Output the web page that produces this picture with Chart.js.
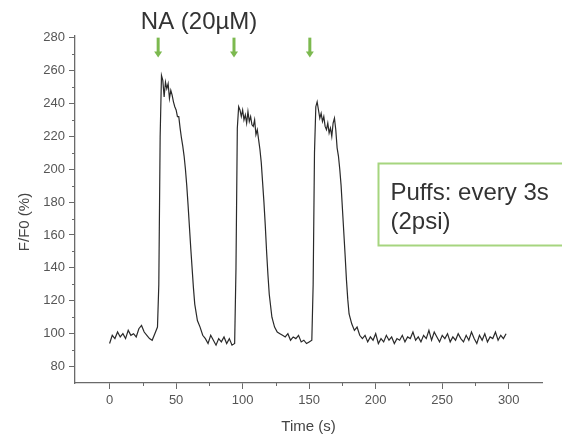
<!DOCTYPE html>
<html>
<head>
<meta charset="utf-8">
<script src="https://cdn.jsdelivr.net/npm/chart.js@4.4.0/dist/chart.umd.min.js"></script>
<style>
  html, body { margin: 0; padding: 0; background: #fff; }
</style>
</head>
<body>
<canvas id="myChart" width="562" height="441"></canvas>
<script>
// time (s) and F/F0 (%)
const times = [
  0, 2, 4, 6, 8, 10, 12, 14, 16, 18, 20, 22, 24, 26, 28, 30, 32, 34, 36,
  37, 38, 39, 40, 41, 42, 43, 44, 45, 46, 47, 48, 49, 50, 51, 52, 53, 54, 55, 56, 57, 58, 59, 60, 61, 62, 63, 64,
  66, 68, 70, 72, 74, 76, 78, 80, 82, 84, 86, 88, 90, 92, 94,
  95, 96, 97, 98, 99, 100, 101, 102, 103, 104, 105, 106, 107, 108, 109, 110, 111, 112, 113, 114, 115, 116, 117, 118, 119, 120,
  122, 124, 126, 128, 130, 132, 134, 136, 138, 140, 142, 144, 146, 148, 150, 152,
  153, 154, 155, 156, 157, 158, 159, 160, 161, 162, 163, 164, 165, 166, 167, 168, 169, 170, 171, 172, 173, 174, 175, 176, 177, 178, 179, 180,
  182, 184, 186, 188, 190, 192, 194, 196, 198, 200, 202, 204, 206, 208, 210, 212, 214, 216, 218, 220,
  222, 224, 226, 228, 230, 232, 234, 236, 238, 240, 242, 244, 246, 248, 250, 252, 254, 256, 258, 260,
  262, 264, 266, 268, 270, 272, 274, 276, 278, 280, 282, 284, 286, 288, 290, 292, 294, 296, 298
];
const values = [
  94, 99, 97, 101, 98, 100, 97, 102, 99, 100, 98, 103, 105, 101, 99, 97, 96, 100, 104,
  130, 220, 257, 254, 244, 253, 249, 252, 243, 248, 245, 241, 238, 236, 232, 232, 225, 219, 214, 208, 200, 190, 178, 165, 152, 140, 128, 118,
  108, 104, 99, 97, 94, 99, 96, 93, 97, 95, 98, 94, 97, 93, 94,
  140, 225, 238, 236, 232, 236, 230, 233, 228, 235, 229, 232, 227, 226, 230, 221, 224, 218, 212, 204, 192, 180, 166, 150, 136, 124,
  110, 104, 101, 100, 99, 98, 100, 96, 98, 97, 99, 95, 96, 94, 95, 96,
  130, 210, 238, 241, 236, 231, 234, 229, 232, 226, 224, 228, 222, 225, 220, 228, 231, 224, 213, 208, 200, 190, 176, 162, 148, 133, 121, 112,
  106, 102, 104, 99, 97, 99, 95, 98, 96, 100, 94, 97, 95, 99, 96, 98, 94, 97, 96, 99,
  95, 98, 97, 101, 96, 98, 95, 99, 97, 102, 96, 101, 98, 95, 99, 97, 100, 95, 98, 96,
  100, 97, 95, 99, 96, 101, 97, 94, 99, 96, 100, 95, 98, 97, 101, 96, 99, 97, 100
];
const puffTimes = [36.5, 93.5, 150.5];
const xTicks = [0, 50, 100, 150, 200, 250, 300];
const xMinor = [25, 75, 125, 175, 225, 275];
const yTicks = [80, 100, 120, 140, 160, 180, 200, 220, 240, 260, 280];
const yMinor = [90, 110, 130, 150, 170, 190, 210, 230, 250, 270];
const titleText = 'NA (20\u00b5M)';
const noteLines = ['Puffs: every 3s', '(2psi)'];

const axisColor = '#6a6a6a';
const green = '#7cb94f';

const extras = {
  id: 'extras',
  afterDraw(chart) {
    const { ctx, scales: { x, y } } = chart;
    ctx.save();

    // minor ticks
    ctx.strokeStyle = axisColor;
    ctx.lineWidth = 1;
    ctx.beginPath();
    xMinor.forEach(v => {
      const px = Math.round(x.getPixelForValue(v)) + 0.5;
      ctx.moveTo(px, y.bottom);
      ctx.lineTo(px, y.bottom + 3);
    });
    yMinor.forEach(v => {
      const py = Math.round(y.getPixelForValue(v)) + 0.5;
      ctx.moveTo(x.left, py);
      ctx.lineTo(x.left - 3, py);
    });
    ctx.stroke();

    // puff arrows
    ctx.strokeStyle = green;
    ctx.fillStyle = green;
    puffTimes.forEach(t => {
      const px = x.getPixelForValue(t);
      const top = y.getPixelForValue(280);
      const bot = y.getPixelForValue(268);
      ctx.lineWidth = 3;
      ctx.beginPath();
      ctx.moveTo(px, top);
      ctx.lineTo(px, bot - 5);
      ctx.stroke();
      ctx.beginPath();
      ctx.moveTo(px - 4, bot - 6);
      ctx.lineTo(px + 4, bot - 6);
      ctx.lineTo(px, bot);
      ctx.closePath();
      ctx.fill();
    });

    // stimulus label, centred between first two puffs
    ctx.fillStyle = '#333';
    ctx.font = '24px "Liberation Sans", Arial, sans-serif';
    ctx.textAlign = 'center';
    ctx.textBaseline = 'middle';
    const midX = (x.getPixelForValue(puffTimes[0]) + x.getPixelForValue(puffTimes[1])) / 2;
    ctx.fillText(titleText, midX + 3, y.top - 14);

    // note box
    const bx = Math.round(x.getPixelForValue(202)) + 0.5;
    const by = Math.round(y.getPixelForValue(204)) + 0.5;
    const bb = Math.round(y.getPixelForValue(154)) + 0.5;
    ctx.fillStyle = '#fff';
    ctx.fillRect(bx, by, chart.width - bx + 4, bb - by);
    ctx.strokeStyle = '#a6d57f';
    ctx.lineWidth = 2;
    ctx.strokeRect(bx, by, chart.width - bx + 4, bb - by);
    ctx.fillStyle = '#333';
    ctx.font = '24px "Liberation Sans", Arial, sans-serif';
    ctx.textAlign = 'left';
    ctx.textBaseline = 'alphabetic';
    noteLines.forEach((line, i) => {
      ctx.fillText(line, bx + 12, by + 36 + i * 29);
    });

    ctx.restore();
  }
};

const ctx = document.getElementById('myChart').getContext('2d');
const myChart = new Chart(ctx, {
  type: 'line',
  data: {
    datasets: [{
      label: 'F/F0',
      data: times.map((t, i) => ({ x: t, y: values[i] })),
      borderColor: '#2a2a2a',
      borderWidth: 1.2,
      pointRadius: 0,
      tension: 0
    }]
  },
  options: {
    responsive: false,
    animation: false,
    layout: { padding: { top: 36, right: 20, left: 0, bottom: 0 } },
    plugins: {
      legend: { display: false },
      tooltip: { enabled: false }
    },
    scales: {
      x: {
        type: 'linear',
        min: -26,
        max: 325,
        afterBuildTicks: s => { s.ticks = xTicks.map(v => ({ value: v })); },
        afterFit: s => { s.height = 58; },
        border: { display: true, color: axisColor, width: 1.3 },
        grid: { drawOnChartArea: false, drawTicks: true, tickLength: 6, tickColor: axisColor },
        ticks: { color: '#555', padding: 4, maxRotation: 0, font: { size: 13, family: '"Liberation Sans", Arial, sans-serif' } },
        title: { display: true, text: 'Time (s)', color: '#444', padding: { top: 0, bottom: 5 }, font: { size: 15, family: '"Liberation Sans", Arial, sans-serif' } }
      },
      y: {
        min: 70,
        max: 281,
        afterBuildTicks: s => { s.ticks = yTicks.map(v => ({ value: v })); },
        afterFit: s => { s.width = 75; },
        border: { display: true, color: axisColor, width: 1.3 },
        grid: { drawOnChartArea: false, drawTicks: true, tickLength: 6, tickColor: axisColor },
        ticks: { color: '#555', padding: 4, font: { size: 13, family: '"Liberation Sans", Arial, sans-serif' } },
        // trailing spaces push the rotated label a little lower, as in the source figure
        title: { display: true, text: 'F/F0 (%)      ', color: '#444', padding: { top: 16, bottom: 0 }, font: { size: 15, family: '"Liberation Sans", Arial, sans-serif' } }
      }
    }
  },
  plugins: [extras]
});
</script>
</body>
</html>
